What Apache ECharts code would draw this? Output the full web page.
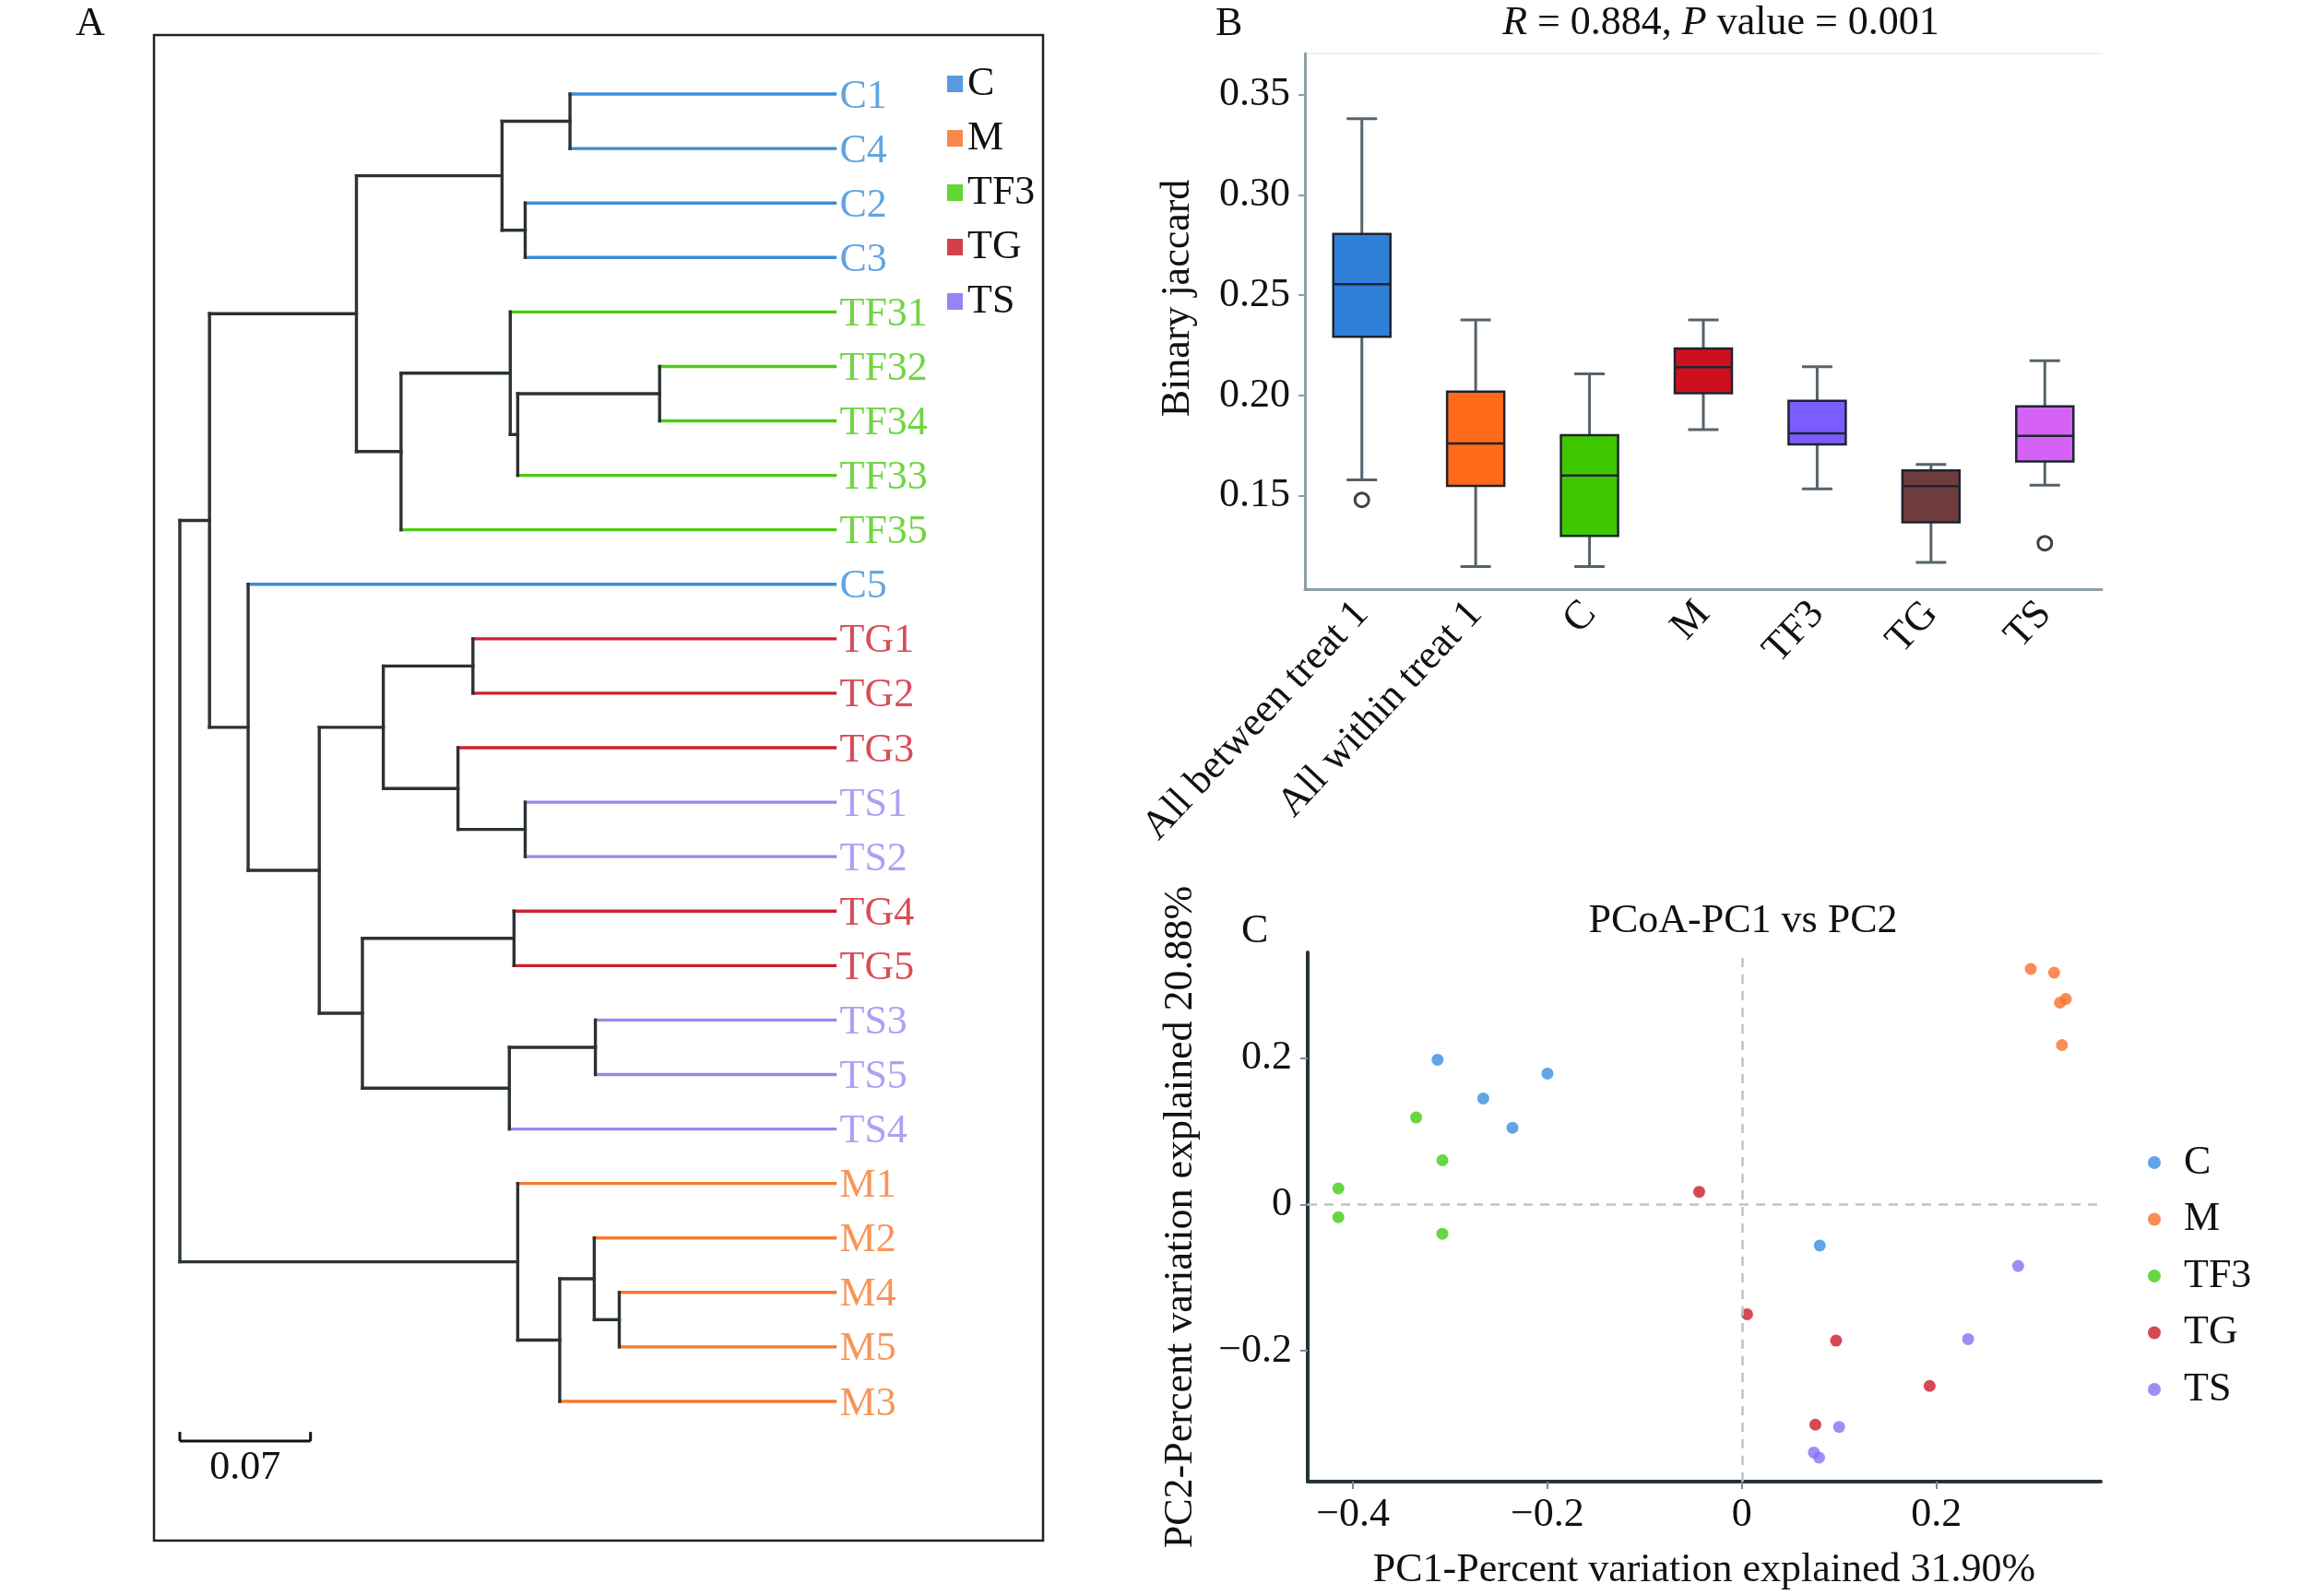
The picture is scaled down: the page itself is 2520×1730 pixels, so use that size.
<!DOCTYPE html>
<html>
<head>
<meta charset="utf-8">
<script src="https://cdn.jsdelivr.net/npm/echarts@6/dist/echarts.min.js"></script>
<style>html,body{margin:0;padding:0;background:#fff}#main{width:2520px;height:1730px}</style>
</head>
<body>
<div id="main"></div>
<script>
// ---------- Panel A: dendrogram ----------
const leafNames = ['C1','C4','C2','C3','TF31','TF32','TF34','TF33','TF35','C5','TG1','TG2','TG3','TS1','TS2','TG4','TG5','TS3','TS5','TS4','M1','M2','M4','M5','M3'];
const leafGroups = ['C','C','C','C','TF3','TF3','TF3','TF3','TF3','C','TG','TG','TG','TS','TS','TG','TG','TS','TS','TS','M','M','M','M','M'];
const leafHeight = 0.351;
const mergeLeft  = ['C1','C2','n0','TF32','n3','TF31','n5','n2','TG1','TS1','TG3','n8','TG4','TS3','n13','n12','n11','C5','n7','M4','M2','n20','M1','n18'];
const mergeRight = ['C4','C3','n1','TF34','TF33','n4','TF35','n6','TG2','TS2','n9','n10','TG5','TS5','TS4','n14','n15','n16','n17','M5','n19','M3','n21','n22'];
const mergeHeight = [0.209,0.185,0.1726,0.257,0.181,0.177,0.1185,0.0946,0.157,0.185,0.149,0.109,0.179,0.2226,0.1765,0.0978,0.0747,0.0366,0.0159,0.2354,0.222,0.2035,0.181,0];
const scaleBarLength = 0.07;

// ---------- Panel B: boxplot ----------
const boxCats = ['All between treat 1','All within treat 1','C','M','TF3','TG','TS'];
const boxMin = [0.158,0.1148,0.1148,0.183,0.1535,0.1168,0.1553];
const boxQ1  = [0.2293,0.155,0.130,0.2012,0.1756,0.1368,0.1672];
const boxMed = [0.2555,0.1761,0.1601,0.2141,0.1812,0.1548,0.1799];
const boxQ3  = [0.2805,0.202,0.1802,0.2235,0.1974,0.1627,0.1946];
const boxMax = [0.338,0.2377,0.2108,0.2377,0.2144,0.1657,0.2174];
const outlierCat = [0,6];
const outlierVal = [0.148,0.1264];
const boxTicks = [0.15,0.20,0.25,0.30,0.35];

// ---------- Panel C: PCoA ----------
const pcoaGroups = ['C','M','TF3','TG','TS'];
const pcoaC   = [[-0.313,0.198],[-0.200,0.179],[-0.266,0.145],[-0.236,0.105],[0.080,-0.056]];
const pcoaM   = [[0.297,0.322],[0.321,0.317],[0.327,0.276],[0.333,0.281],[0.329,0.218]];
const pcoaTF3 = [[-0.335,0.119],[-0.308,0.0605],[-0.415,0.022],[-0.415,-0.0174],[-0.308,-0.040]];
const pcoaTG  = [[-0.044,0.0174],[0.0053,-0.150],[0.0968,-0.186],[0.193,-0.248],[0.0755,-0.301]];
const pcoaTS  = [[0.284,-0.084],[0.2326,-0.184],[0.0999,-0.304],[0.074,-0.339],[0.0793,-0.346]];
const pcoaXTicks = [-0.4,-0.2,0,0.2];
const pcoaYTicks = [-0.2,0,0.2];

// ---------- styles ----------
const FONT = "Liberation Serif";
const FS = 44;
const treeColors = {C:'#3b8ed8', M:'#f57a30', TF3:'#4ccb14', TG:'#d0202e', TS:'#9a88f0'};
const legendAColors = {C:'#2f7fd6', M:'#f76a22', TF3:'#3ecb00', TG:'#c8101c', TS:'#7b68f0'};
const pcoaColors = {C:'#3b8ee0', M:'#f96f2a', TF3:'#44cc14', TG:'#cc1a2a', TS:'#8a6ff2'};
const boxColors = ['#2f80d8','#ff6a1a','#3fc800','#cc1020','#7b5cff','#6e3c3c','#d662f5'];
const DARK = '#2b3236';

// build dendrogram segments
const nodeY = {}, nodeH = {};
leafNames.forEach((n,i)=>{ nodeY[n]=i; nodeH[n]=leafHeight; });
const segs = [], segColors = [];
mergeLeft.forEach((a,k)=>{
  const b = mergeRight[k], id = 'n'+k, h = mergeHeight[k];
  nodeY[id] = (nodeY[a]+nodeY[b])/2; nodeH[id] = h;
  [a,b].forEach(c=>{
    segs.push([h, nodeY[c], nodeH[c], nodeY[c]]);
    const li = leafNames.indexOf(c);
    segColors.push(li>=0 ? treeColors[leafGroups[li]] : DARK);
  });
  segs.push([h, nodeY[a], h, nodeY[b]]);
  segColors.push(DARK);
});

const chart = echarts.init(document.getElementById('main'), null, {renderer:'canvas'});
const pcoaData = {C:pcoaC, M:pcoaM, TF3:pcoaTF3, TG:pcoaTG, TS:pcoaTS};

function pcFmt(v){ if (Math.abs(v)<1e-9) return '0'; return (v<0?'\u2212':'') + Math.abs(v).toString(); }

const option = {
  animation:false,
  backgroundColor:'#fff',
  textStyle:{fontFamily:FONT},
  title:[
    {text:'{i|R} = 0.884, {i|P} value = 0.001', left:1861, top:-2, textAlign:'center',
     textStyle:{fontFamily:FONT,fontSize:FS,fontWeight:'normal',color:'#111',
       rich:{i:{fontStyle:'italic',fontFamily:FONT,fontSize:FS,color:'#111'}}}},
    {text:'PCoA-PC1 vs PC2', left:1885, top:972, textAlign:'center',
     textStyle:{fontFamily:FONT,fontSize:FS,fontWeight:'normal',color:'#111'}}
  ],
  graphic:[
    {type:'text', left:82, top:4, style:{text:'A', font:`${FS}px "${FONT}"`, fill:'#111'}},
    {type:'text', left:1318, top:4, style:{text:'B', font:`${FS}px "${FONT}"`, fill:'#111'}},
    {type:'text', left:1346, top:988, style:{text:'C', font:`${FS}px "${FONT}"`, fill:'#111'}},
    {type:'line', shape:{x1:1415, y1:58, x2:2279, y2:58}, style:{stroke:'#eef1f3', lineWidth:2}}
  ],
  legend:[
    {orient:'vertical', left:1027, top:69, padding:0, itemGap:15, icon:'rect', itemWidth:17, itemHeight:18,
     textStyle:{fontFamily:FONT,fontSize:FS,lineHeight:44,color:'#111'},
     data:pcoaGroups.map(g=>({name:g, itemStyle:{color:legendAColors[g]}})), selectedMode:false},
    {orient:'vertical', left:2329, top:1239, padding:0, itemGap:17.5, icon:'circle', itemWidth:14, itemHeight:14,
     textStyle:{fontFamily:FONT,fontSize:FS,lineHeight:44,color:'#111',padding:[0,0,0,20]},
     data:pcoaGroups, selectedMode:false}
  ],
  grid:[
    {left:167, top:38, width:964, height:1633, show:true, borderColor:'#222', borderWidth:2.5, backgroundColor:'transparent'},
    {left:1415, top:58, width:864, height:581},
    {left:1418, top:1033, width:860, height:574}
  ],
  xAxis:[
    {gridIndex:0, type:'value', min:-0.01383, max:0.46239, show:false},
    {gridIndex:1, type:'category', data:boxCats,
     axisLine:{lineStyle:{color:'#8d9ea8',width:3}},
     axisTick:{alignWithLabel:true,length:7,lineStyle:{color:'#8d9ea8',width:2}},
     axisLabel:{rotate:47,margin:20,fontFamily:FONT,fontSize:FS,color:'#111'}},
    {gridIndex:2, type:'value', min:-0.4465, max:0.369,
     axisLine:{show:true,onZero:false,lineStyle:{color:'#263238',width:4}},
     axisTick:{show:true,customValues:pcoaXTicks,length:8,lineStyle:{color:'#7d8a90',width:2}},
     axisLabel:{customValues:pcoaXTicks,formatter:pcFmt,margin:14,fontFamily:FONT,fontSize:FS,color:'#111'},
     splitLine:{show:false},
     name:'PC1-Percent variation explained 31.90%', nameLocation:'middle', nameGap:74,
     nameTextStyle:{fontFamily:FONT,fontSize:FS,color:'#111'}}
  ],
  yAxis:[
    {gridIndex:0, type:'value', inverse:true, min:-1.0835, max:26.556, show:false},
    {gridIndex:1, type:'value', min:0.1035, max:0.3705,
     axisLine:{show:true,onZero:false,lineStyle:{color:'#8d9ea8',width:3}},
     axisTick:{show:true,customValues:boxTicks,length:7,lineStyle:{color:'#8d9ea8',width:2}},
     axisLabel:{customValues:boxTicks,formatter:v=>v.toFixed(2),margin:16,fontFamily:FONT,fontSize:FS,color:'#111'},
     splitLine:{show:false},
     name:'Binary jaccard', nameLocation:'middle', nameGap:116, nameRotate:90,
     nameTextStyle:{fontFamily:FONT,fontSize:FS,color:'#111',padding:[0,0,0,50]}},
    {gridIndex:2, type:'value', min:-0.3788, max:0.3447,
     axisLine:{show:true,onZero:false,lineStyle:{color:'#263238',width:4}},
     axisTick:{show:true,customValues:pcoaYTicks,length:8,lineStyle:{color:'#7d8a90',width:2}},
     axisLabel:{customValues:pcoaYTicks,formatter:pcFmt,margin:17,fontFamily:FONT,fontSize:FS,color:'#111'},
     splitLine:{show:false},
     name:'PC2-Percent variation explained 20.88%', nameLocation:'middle', nameGap:116, nameRotate:90,
     nameTextStyle:{fontFamily:FONT,fontSize:FS,color:'#111'}}
  ],
  series:[
    // dendrogram branches
    {type:'custom', xAxisIndex:0, yAxisIndex:0, data:segs, encode:{x:[0,2],y:[1,3]}, silent:true,
     renderItem:(params, api)=>{
       const p1 = api.coord([api.value(0), api.value(1)]);
       const p2 = api.coord([api.value(2), api.value(3)]);
       return {type:'line', shape:{x1:p1[0],y1:p1[1],x2:p2[0],y2:p2[1]},
               style:{stroke:segColors[params.dataIndex], lineWidth:3.4, lineCap:'square'}};
     }},
    // leaf labels
    {type:'scatter', xAxisIndex:0, yAxisIndex:0, symbolSize:0, silent:true,
     data:leafNames.map((n,i)=>({value:[leafHeight,i], name:n,
       label:{show:true, position:'right', distance:5, offset:[0,3], formatter:n, fontFamily:FONT, fontSize:FS, color:treeColors[leafGroups[i]]}}))},
    // scale bar
    {type:'custom', xAxisIndex:0, yAxisIndex:0, data:[[0, scaleBarLength]], encode:{x:[0,1]}, silent:true,
     renderItem:(params, api)=>{
       const a = api.coord([api.value(0), 24.73]);
       const b = api.coord([api.value(1), 24.73]);
       const st = {stroke:'#111', lineWidth:3};
       return {type:'group', children:[
         {type:'line', shape:{x1:a[0],y1:a[1],x2:b[0],y2:b[1]}, style:st},
         {type:'line', shape:{x1:a[0],y1:a[1]-10,x2:a[0],y2:a[1]}, style:st},
         {type:'line', shape:{x1:b[0],y1:b[1]-10,x2:b[0],y2:b[1]}, style:st},
         {type:'text', x:(a[0]+b[0])/2, y:a[1]+29, style:{text:String(api.value(1)), font:`${FS}px "${FONT}"`, fill:'#111', align:'center', verticalAlign:'middle'}}
       ]};
     }},
    // whiskers
    {type:'custom', xAxisIndex:1, yAxisIndex:1, silent:true, z:1,
     data:boxCats.map((c,i)=>[i, boxMin[i], boxMax[i]]), encode:{x:0,y:[1,2]},
     renderItem:(params, api)=>{
       const lo = api.coord([api.value(0), api.value(1)]);
       const hi = api.coord([api.value(0), api.value(2)]);
       const st = {stroke:'#56636b', lineWidth:3};
       const h = 16.5;
       return {type:'group', children:[
         {type:'line', shape:{x1:lo[0],y1:lo[1],x2:hi[0],y2:hi[1]}, style:st},
         {type:'line', shape:{x1:lo[0]-h,y1:lo[1],x2:lo[0]+h,y2:lo[1]}, style:st},
         {type:'line', shape:{x1:hi[0]-h,y1:hi[1],x2:hi[0]+h,y2:hi[1]}, style:st}
       ]};
     }},
    // boxes
    {type:'boxplot', xAxisIndex:1, yAxisIndex:1, z:3, silent:true, boxWidth:[62,62],
     itemStyle:{borderColor:'#1c2530', borderWidth:2.5},
     data:boxCats.map((c,i)=>({value:[boxQ1[i],boxQ1[i],boxMed[i],boxQ3[i],boxQ3[i]], itemStyle:{color:boxColors[i]}}))},
    // outliers
    {type:'scatter', xAxisIndex:1, yAxisIndex:1, symbol:'circle', symbolSize:15, silent:true, z:4,
     itemStyle:{color:'#ffffff', borderColor:'#111111', borderWidth:3},
     data:outlierCat.map((c,i)=>[c, outlierVal[i]])},
    // PCoA reference lines
    {type:'scatter', xAxisIndex:2, yAxisIndex:2, data:[], silent:true,
     markLine:{silent:true, symbol:'none', label:{show:false},
       lineStyle:{type:[10,8], color:'#b9c5ca', width:2.5},
       data:[{xAxis:0},{yAxis:0}]}}
  ].concat(pcoaGroups.map(g=>({
     name:g, type:'scatter', xAxisIndex:2, yAxisIndex:2, symbolSize:13, silent:true,
     itemStyle:{color:pcoaColors[g]}, data:pcoaData[g]
  })))
};
chart.setOption(option);
</script>
</body>
</html>
